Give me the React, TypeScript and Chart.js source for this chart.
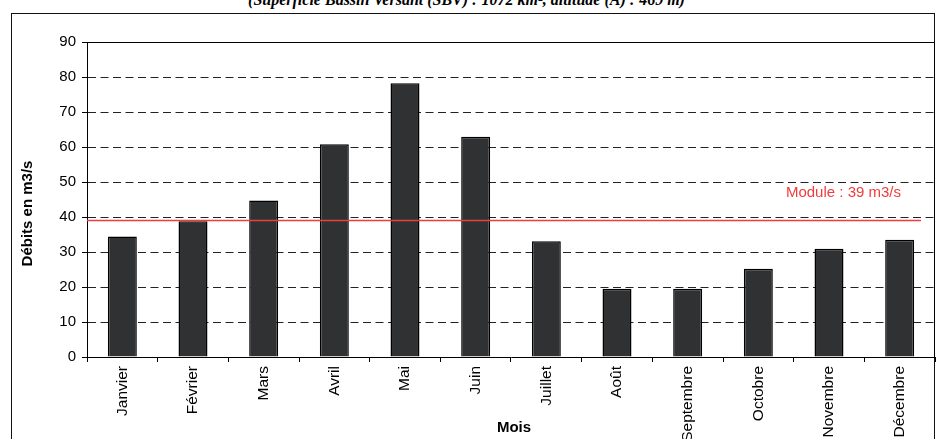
import React, { useEffect, useRef } from "react";
import { Chart, registerables } from "chart.js";

Chart.register(...registerables);

const months = ["Janvier", "Février", "Mars", "Avril", "Mai", "Juin", "Juillet", "Août", "Septembre", "Octobre", "Novembre", "Décembre"];
const debits = [34.4, 38.8, 44.7, 60.8, 78.2, 62.9, 33.1, 19.5, 19.5, 25.2, 30.9, 33.5];
const moduleValue = 39;
const moduleLabel = "Module : 39 m3/s";
const yTitle = "Débits en m3/s";
const xTitle = "Mois";
const topTitle = "(Superficie Bassin Versant (SBV) : 1072 km², altitude (A) : 469 m)";
const yMin = 0;
const yMax = 90;
const yStep = 10;

const FONT = "'Liberation Sans', Arial, sans-serif";

const overlayPlugin = {
  id: "overlay",
  afterDatasetsDraw(chart: any) {
    const { ctx, chartArea, scales } = chart;
    const y = scales.y;
    ctx.save();
    ctx.strokeStyle = "#000";
    ctx.lineWidth = 1;
    ctx.setLineDash([]);
    ctx.beginPath();
    ctx.moveTo(chartArea.left, chartArea.top + 0.5);
    ctx.lineTo(chartArea.right, chartArea.top + 0.5);
    ctx.moveTo(chartArea.right - 0.5, chartArea.top);
    ctx.lineTo(chartArea.right - 0.5, chartArea.bottom);
    ctx.stroke();
    const yy = y.getPixelForValue(moduleValue);
    const endX = chartArea.right - 14;
    ctx.strokeStyle = "#e8403a";
    ctx.lineWidth = 1.5;
    ctx.beginPath();
    ctx.moveTo(chartArea.left, yy);
    ctx.lineTo(endX, yy);
    ctx.stroke();
    ctx.fillStyle = "#f03c3c";
    ctx.font = `15px ${FONT}`;
    ctx.textAlign = "right";
    ctx.textBaseline = "middle";
    ctx.fillText(moduleLabel, endX - 20, yy - 28);
    ctx.fillStyle = "#000";
    ctx.font = `bold 15px ${FONT}`;
    ctx.textAlign = "center";
    ctx.fillText(xTitle, (chartArea.left + chartArea.right) / 2 + 3, 428);
    ctx.translate(28, (chartArea.top + chartArea.bottom) / 2 + 14);
    ctx.rotate(-Math.PI / 2);
    ctx.fillText(yTitle, 0, 0);
    ctx.restore();
  },
};

export default function App() {
  const ref = useRef<HTMLCanvasElement | null>(null);
  useEffect(() => {
    if (!ref.current) return;
    const chart = new Chart(ref.current, {
      type: "bar",
      data: {
        labels: months,
        datasets: [
          {
            data: debits,
            backgroundColor: "#303133",
            borderColor: "#000",
            borderWidth: 1.5,
            categoryPercentage: 1,
            barPercentage: 0.41,
          },
        ],
      },
      options: {
        responsive: false,
        animation: false,
        devicePixelRatio: 1,
        layout: { padding: { top: 42, right: 2, left: 0, bottom: 0 } },
        plugins: { legend: { display: false }, tooltip: { enabled: false }, title: { display: false } },
        scales: {
          x: {
            offset: true,
            afterFit(scale: any) {
              scale.height = 439 - 357;
            },
            grid: { display: true, drawOnChartArea: false, drawTicks: true, tickLength: 5, color: "#000", tickColor: "#000", offset: true },
            border: { display: true, color: "#000", width: 1 },
            ticks: { autoSkip: false, minRotation: 90, maxRotation: 90, padding: 4, color: "#000", font: { family: FONT, size: 15.5 } },
          },
          y: {
            min: yMin,
            max: yMax,
            afterFit(scale: any) {
              scale.width = 87;
            },
            grid: { display: true, drawOnChartArea: true, drawTicks: true, tickLength: 5, color: "#222", tickColor: "#000", lineWidth: 1 },
            border: { display: true, color: "#000", width: 1, dash: [8, 4.5] },
            ticks: { stepSize: yStep, padding: 6, color: "#000", font: { family: FONT, size: 15 } },
          },
        },
      },
      plugins: [overlayPlugin],
    } as any);
    return () => chart.destroy();
  }, []);

  return (
    <div style={{ position: "fixed", left: 0, top: 0, width: 937, height: 439, overflow: "hidden", background: "#fff" }}>
      <div
        style={{
          position: "absolute",
          top: -8,
          left: 0,
          width: 937,
          textAlign: "center",
          fontFamily: "'Liberation Serif', 'Times New Roman', serif",
          fontWeight: "bold",
          fontStyle: "italic",
          fontSize: 16,
          lineHeight: "16px",
          whiteSpace: "nowrap",
        }}
      >
        <span style={{ position: "relative", left: -2 }}>{topTitle}</span>
      </div>
      <div style={{ position: "absolute", left: 11, top: 13, width: 922, height: 500, border: "1.5px solid #111" }} />
      <canvas ref={ref} width={937} height={439} style={{ position: "absolute", left: 0, top: 0, width: 937, height: 439 }} />
    </div>
  );
}
